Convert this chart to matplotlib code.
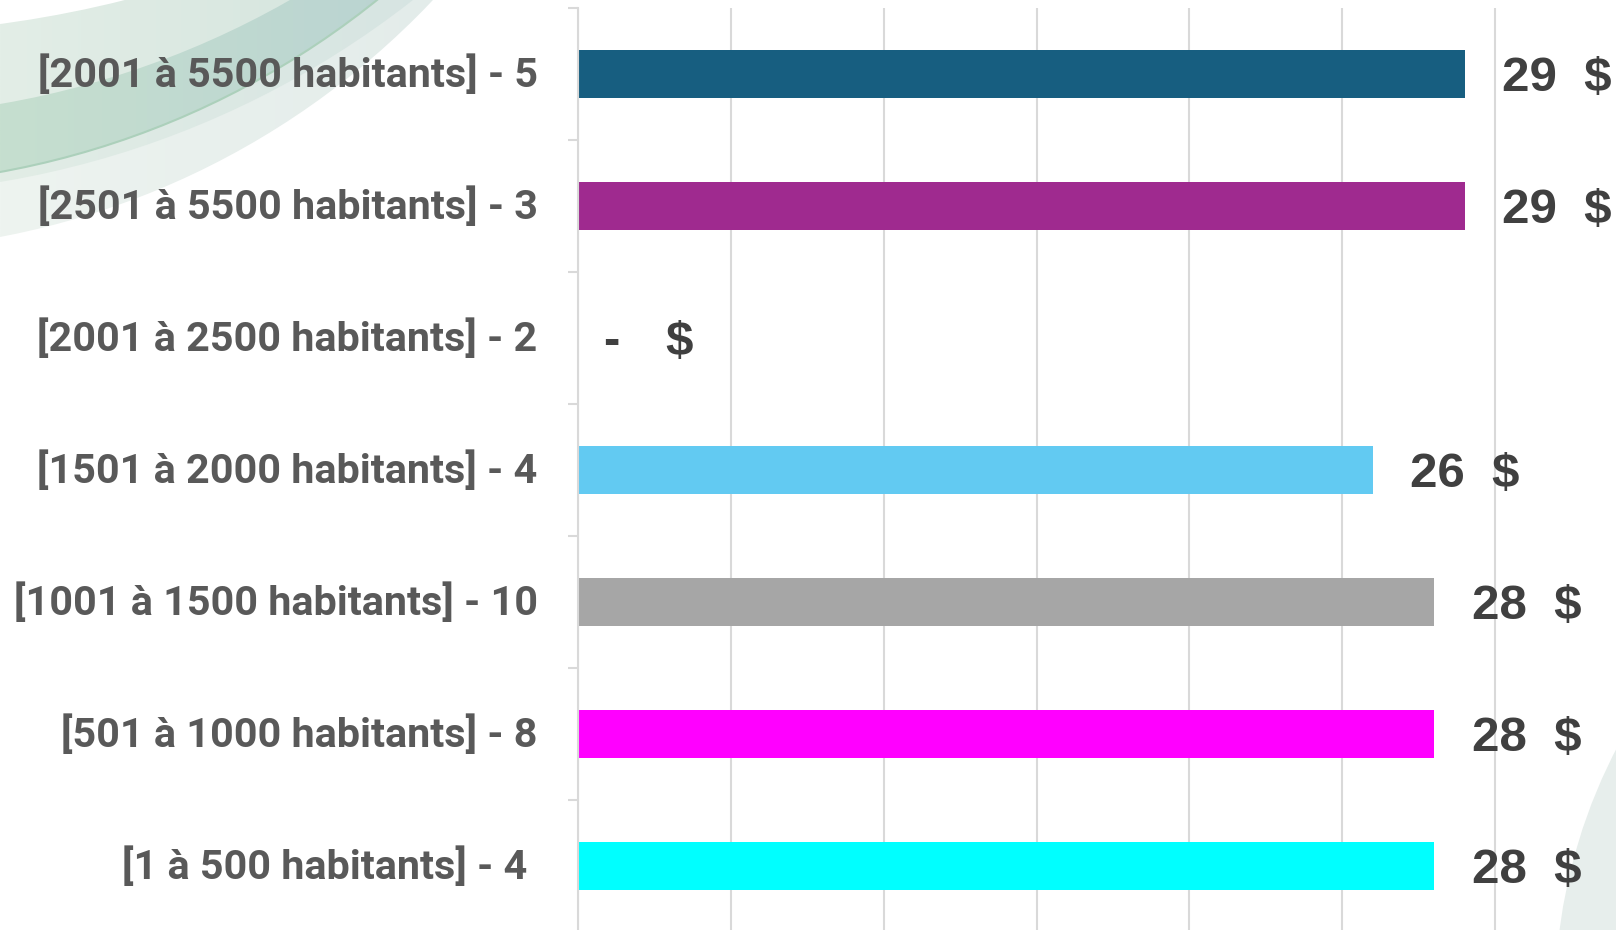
import numpy as np
import matplotlib
matplotlib.use("Agg")
import matplotlib.pyplot as plt
from matplotlib.patches import Circle
from matplotlib.colors import to_rgb
from matplotlib.transforms import ScaledTranslation

# ---------------- data ----------------
categories = [
    "[2001 à 5500 habitants] - 5",
    "[2501 à 5500 habitants] - 3",
    "[2001 à 2500 habitants] - 2",
    "[1501 à 2000 habitants] - 4",
    "[1001 à 1500 habitants] - 10",
    "[501 à 1000 habitants] - 8",
    "[1 à 500 habitants] - 4 ",
]
values = [29, 29, 0, 26, 28, 28, 28]
bar_colors = ["#175e80", "#9f2a8f", "#ffffff", "#62caf2", "#a6a6a6", "#ff00ff", "#00ffff"]
xticks = [0, 5, 10, 15, 20, 25, 30]

W, H = 1616, 930
fig = plt.figure(figsize=(W / 100, H / 100), dpi=100)
fig.patch.set_facecolor("white")

# ---------------- background decoration ----------------
bg = fig.add_axes([0, 0, 1, 1], zorder=0)
bg.set_xlim(0, W)
bg.set_ylim(H, 0)
bg.axis("off")


def circ(yl, xt, cx=-150.0):
    cy = (yl ** 2 - xt ** 2 + 2 * xt * cx) / (2 * yl)
    r = np.hypot(0 - cx, yl - cy)
    return (cx, cy), r


def grad_disk(ax, yl, xt, c_left, c_right, x0=0, x1=440):
    (cx, cy), r = circ(yl, xt)
    patch = Circle((cx, cy), r, facecolor="none", edgecolor="none")
    ax.add_patch(patch)
    a = np.array(to_rgb(c_left))
    b = np.array(to_rgb(c_right))
    t = np.linspace(0, 1, 256)[None, :, None]
    img = a * (1 - t) + b * t
    img = np.repeat(img, 2, axis=0)
    im = ax.imshow(img, extent=(x0, x1, 300, 0), aspect="auto", interpolation="bilinear")
    im.set_clip_path(patch)
    return (cx, cy), r


def flat_disk(ax, yl, xt, color):
    (cx, cy), r = circ(yl, xt)
    ax.add_patch(Circle((cx, cy), r, facecolor=color, edgecolor="none"))
    return (cx, cy), r


grad_disk(bg, 237, 433, "#eef4f0", "#e3ecea")
grad_disk(bg, 182, 413, "#e2ede6", "#d6e4e2")
c3, r3 = grad_disk(bg, 172, 377, "#c6dfcf", "#b9d3d2")
bg.add_patch(Circle(c3, r3, facecolor="none", edgecolor="#acd0bb", linewidth=1.5))
grad_disk(bg, 104, 290, "#e3eee7", "#d2e3dc")
flat_disk(bg, 24, 125, "white")
bg.add_patch(Circle((2100, 1000), 545, facecolor="#e7eeec", edgecolor="none"))
bg.set_xlim(0, W)
bg.set_ylim(H, 0)

# ---------------- main chart ----------------
left = 578 / W
top_px, bot_px = 8, 932
ax = fig.add_axes([left, (H - bot_px) / H, 1 - left, (bot_px - top_px) / H], zorder=1)
ax.patch.set_alpha(0)

px_per_unit = 152.87 / 5
ax.set_xlim(0, (W - 578) / px_per_unit)
ax.set_ylim(len(categories) - 0.5, -0.5)

y = np.arange(len(categories))
ax.barh(y, values, height=0.36, color=bar_colors, zorder=2)

grid_c = "#d9d9d9"
ax.set_xticks(xticks)
ax.set_xticklabels([])
ax.tick_params(axis="x", length=0)
ax.grid(axis="x", color=grid_c, linewidth=1.5, zorder=0)
ax.set_axisbelow(True)

for s in ["top", "right", "bottom"]:
    ax.spines[s].set_visible(False)
ax.spines["left"].set_color(grid_c)
ax.spines["left"].set_linewidth(1.5)

ax.set_yticks(y)
ax.set_yticklabels(categories, fontfamily="Roboto", fontweight="bold",
                   fontsize=29.8, color="#595959")
ax.tick_params(axis="y", which="major", length=0, pad=29)
shift_up = ScaledTranslation(0, 3 / 100, fig.dpi_scale_trans)
for lab in ax.get_yticklabels():
    lab.set_transform(lab.get_transform() + shift_up)
ax.set_yticks(np.arange(-0.5, len(categories) + 0.5, 1), minor=True)
ax.tick_params(axis="y", which="minor", length=7.5, width=1.5, color=grid_c)

lab_kw = dict(textcoords="offset points", ha="left", va="center",
              fontfamily="Liberation Sans", fontweight="bold", fontsize=35.5,
              color="#404040", zorder=3)
for yi, v in zip(y, values):
    if v == 0:
        ax.annotate("-", xy=(v, yi), xytext=(18, -3), **lab_kw)
        ax.annotate("$", xy=(v, yi), xytext=(63, -3), **lab_kw)
    else:
        ax.annotate(f"{v}  $", xy=(v, yi), xytext=(27, -3), **lab_kw)

fig.savefig("out.png", dpi=100, facecolor="white")
